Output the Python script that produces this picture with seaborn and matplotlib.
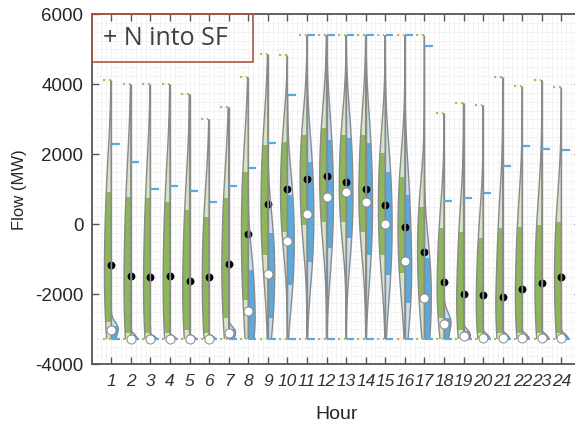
import numpy as np
import pandas as pd
import matplotlib
matplotlib.use("Agg")
import matplotlib.pyplot as plt
import seaborn as sns
from matplotlib.patches import Rectangle
from matplotlib.ticker import MultipleLocator

# ---------------- data ----------------
hours = list(range(1, 25))
hour_labels = [str(h) for h in hours]

green_min = [-3280, -3280, -3280, -3280, -3280, -3280, -3280, -3280, -3280, -3280, -3280, -3280,
             -3280, -3280, -3280, -3280, -3280, -3280, -3280, -3280, -3280, -3280, -3280, -3280]
green_q1 = [-2779, -3110, -3110, -3110, -3016, -3110, -2682, -2160, -876, -210, -20, 75,
            75, -210, -876, -1398, -2207, -2682, -3016, -3110, -3110, -3110, -3110, -3110]
green_median = [-1161, -1475, -1494, -1475, -1609, -1512, -1133, -277, 579, 1007, 1283, 1378,
                1216, 1007, 551, -67, -799, -1646, -1980, -2017, -2083, -1837, -1666, -1512]
green_q3 = [930, 788, 741, 646, 408, 218, 741, 1502, 2262, 2357, 2548, 2739,
            2548, 2548, 2025, 1358, 502, -114, -210, -400, -114, -67, -20, 75]
green_max = [4115, 4010, 4010, 4010, 3718, 3005, 3338, 4222, 4878, 4850, 5400, 5400,
             5400, 5400, 5400, 5400, 5400, 3166, 3470, 3413, 4212, 3946, 4115, 3909]

blue_min = [-3280, -3280, -3280, -3280, -3280, -3280, -3280, -3280, -3280, -3280, -3280, -3280,
            -3280, -3280, -3280, -3280, -3280, -3280, -3280, -3280, -3280, -3280, -3280, -3280]
blue_q1 = [-3280, -3280, -3280, -3280, -3280, -3280, -3280, -3280, -2682, -1732, -1067, -685,
           -400, -876, -1447, -2254, -3280, -3280, -3280, -3280, -3280, -3280, -3280, -3280]
blue_median = [-3016, -3272, -3272, -3272, -3272, -3272, -3110, -2474, -1427, -467, 294, 779,
               922, 628, 0, -1056, -2103, -2853, -3178, -3244, -3244, -3244, -3244, -3244]
blue_q3 = [-2900, -3150, -3200, -3200, -3200, -3200, -3000, -1304, -257, 836, 1786, 2405,
           2453, 2310, 1500, 836, -970, -2682, -3050, -3150, -3150, -3150, -3150, -3150]
blue_max = [2291, 1769, 999, 1101, 959, 645, 1084, 1606, 2328, 3698, 5400, 5400,
            5400, 5400, 5400, 5400, 5080, 673, 759, 902, 1655, 2225, 2157, 2120]

sides = ["Green", "Blue"]

# ---------------- style ----------------
sns.set_style("white")
plt.rcParams["font.family"] = ["Liberation Sans", "DejaVu Sans"]

light = {"Green": "#d5e3c6", "Blue": "#c6dff2"}
dark = {"Green": "#8db65a", "Blue": "#5aaae0"}
outline = {"Green": "#8a8a8a", "Blue": "#8a8a8a"}

# the violin bodies are estimated from the quartile points
rows = []
for i, h in enumerate(hours):
    for v in (green_q1[i], green_median[i], green_q3[i]):
        rows.append({"hour": h, "flow": v, "side": "Green"})
    for v in (blue_q1[i], blue_median[i], blue_q3[i]):
        rows.append({"hour": h, "flow": v, "side": "Blue"})
df = pd.DataFrame(rows)

fig = plt.figure(figsize=(5.75, 4.28), dpi=100)
ax = fig.add_axes([0.1595, 0.1488, 0.8509, 0.8178])


def layer(palette, fill=True, linewidth=0.0, zorder=2):
    before = len(ax.collections)
    sns.violinplot(data=df, x="hour", y="flow", hue="side", hue_order=sides,
                   split=True, dodge=True, native_scale=True, cut=8, inner=None,
                   density_norm="width", bw_adjust=1.0, width=0.7, palette=palette,
                   fill=fill, linewidth=linewidth, saturation=1, legend=False, ax=ax)
    new = ax.collections[before:]
    for c in new:
        c.set_zorder(zorder)
    return new


def clip_halves(colls, green_lo, green_hi, blue_lo, blue_hi):
    for c in colls:
        verts = np.concatenate([p.vertices for p in c.get_paths()])
        xmin, xmax = verts[:, 0].min(), verts[:, 0].max()
        if abs(xmax - round(xmax)) < 1e-6:
            pos = int(round(xmax))
            lo, hi, x0 = green_lo, green_hi, pos - 1
        else:
            pos = int(round(xmin))
            lo, hi, x0 = blue_lo, blue_hi, pos
        i = hours.index(pos)
        rect = Rectangle((x0, lo[i]), 1, hi[i] - lo[i], transform=ax.transData)
        c.set_clip_path(rect)


light_colls = layer(light, zorder=2)
clip_halves(light_colls, green_min, green_max, blue_min, blue_max)
dark_colls = layer(dark, zorder=3)
clip_halves(dark_colls, green_q1, green_q3, blue_q1, blue_q3)
line_colls = layer(outline, fill=False, linewidth=1.0, zorder=5)
clip_halves(line_colls, green_min, green_max, blue_min, blue_max)

hrs = np.array(hours)
# centre line of every violin over its full range
ax.vlines(hrs, green_min, np.maximum(green_max, blue_max), colors="#8a8a8a", lw=1.0, zorder=5)
# range markers
ax.hlines(green_max, hrs - 0.42, hrs - 0.04, colors="#a3c163", linestyles=(0, (1, 1.6)), lw=1.6, zorder=5)
ax.hlines(green_min, hrs - 0.42, hrs - 0.04, colors="#a3c163", linestyles=(0, (1, 1.6)), lw=1.6, zorder=5)
ax.hlines(blue_max, hrs + 0.02, hrs + 0.42, colors="#5aaae0", lw=1.6, zorder=5)
ax.hlines(blue_min, hrs + 0.02, hrs + 0.42, colors="#5aaae0", lw=1.6, zorder=5)

# medians
sns.scatterplot(x=hours, y=green_median, color="black", s=32, linewidth=0, zorder=4, ax=ax)
sns.scatterplot(x=hours, y=blue_median, color="white", edgecolor="#8a8a8a", s=42,
                linewidth=0.7, zorder=6, ax=ax)

# axes
ax.set_xlim(0, 25)
ax.set_ylim(-4000, 6000)
ax.set_xticks(hours)
ax.set_xticklabels(hour_labels, fontstyle="italic", fontsize=12.5, color="#333333")
ax.set_yticks([-4000, -2000, 0, 2000, 4000, 6000])
ax.set_yticklabels(["-4000", "-2000", "0", "2000", "4000", "6000"], fontsize=13.5, color="#262626")
ax.xaxis.set_minor_locator(MultipleLocator(0.25))
ax.yaxis.set_minor_locator(MultipleLocator(250))
ax.grid(which="both", color="#efefef", lw=0.5)
ax.set_axisbelow(True)
ax.tick_params(which="major", direction="in", length=5, width=1, color="#555555",
               top=True, bottom=True, left=True, right=True)
ax.tick_params(axis="x", pad=7)
ax.tick_params(axis="y", pad=6)
ax.tick_params(which="minor", length=0)
for s in ax.spines.values():
    s.set_color("#555555")
    s.set_linewidth(1.3)
ax.set_xlabel("Hour", fontsize=14, color="#262626", labelpad=12)
ax.set_ylabel("Flow (MW)", fontsize=12, color="#262626", labelpad=6)

# annotation box
ax.add_patch(Rectangle((0, 0.864), 0.330, 0.136, transform=ax.transAxes, fill=False,
                       edgecolor="#b0553a", lw=1.2, zorder=7, clip_on=False))
ax.text(0.023, 0.932, "+ N into SF", transform=ax.transAxes, fontsize=18,
        family=["Open Sans", "DejaVu Sans"], color="#3f3f3f", va="center", ha="left", zorder=8)

fig.savefig("out.png", dpi=100)
